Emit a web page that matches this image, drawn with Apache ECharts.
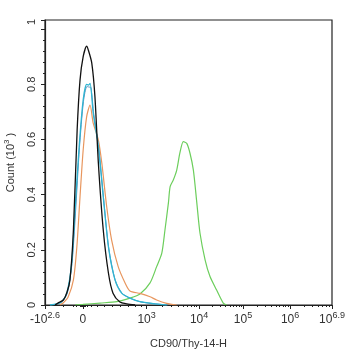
<!DOCTYPE html>
<html>
<head>
<meta charset="utf-8">
<script src="https://cdn.jsdelivr.net/npm/echarts@6/dist/echarts.min.js"></script>
<style>html,body{margin:0;padding:0;background:#fff}#c{width:346px;height:350px}</style>
</head>
<body>
<div id="c"></div>
<script>
// x values are display positions on the biexponential axis (0 = -10^2.6 ... 1000 = 10^6.9)
// y values are counts in units of 10^3
const xTickPos = [0, 132, 354, 537, 690, 854, 1000];
const xTickText = ['-10^2.6', '0', '10^3', '10^4', '10^5', '10^6', '10^6.9'];
const xMinorLow = [64, 99, 110, 122, 125, 129, 136, 139, 146, 160, 181, 206, 233, 261, 289, 314, 335];
const yLabelPos = [0, 0.2, 0.4, 0.6, 0.8, 1.026];
const yLabelText = ['0', '0.2', '0.4', '0.6', '0.8', '1'];

const blackX = [35, 45, 64, 77, 87, 99, 112, 122, 133, 145, 151, 163, 174, 186, 203, 221, 237, 261, 285, 314];
const blackY = [0, 0.007, 0.018, 0.047, 0.091, 0.272, 0.634, 0.815, 0.900, 0.938, 0.924, 0.877, 0.755, 0.514, 0.272, 0.116, 0.043, 0.011, 0.004, 0];

const cyanX = [17, 41, 58, 76, 93, 104, 119, 133, 145, 151, 157, 168, 186, 203, 221, 244, 267, 296, 331, 376, 424];
const cyanY = [0, 0.004, 0.012, 0.043, 0.152, 0.333, 0.574, 0.743, 0.800, 0.797, 0.803, 0.696, 0.574, 0.392, 0.211, 0.091, 0.043, 0.025, 0.012, 0.005, 0];

const steelX = [20, 42, 60, 78, 94, 106, 120, 134, 146, 153, 160, 170, 187, 204, 222, 245, 269, 298, 335, 385, 428];
const steelY = [0, 0.004, 0.012, 0.044, 0.150, 0.330, 0.570, 0.738, 0.792, 0.790, 0.788, 0.690, 0.570, 0.388, 0.207, 0.088, 0.042, 0.024, 0.011, 0.004, 0];

const orangeX = [52, 64, 81, 99, 111, 122, 133, 145, 157, 168, 186, 198, 215, 232, 255, 279, 296, 331, 366, 389, 424, 459];
const orangeY = [0, 0.008, 0.030, 0.091, 0.211, 0.392, 0.562, 0.682, 0.725, 0.659, 0.598, 0.514, 0.356, 0.236, 0.139, 0.080, 0.051, 0.042, 0.030, 0.018, 0.006, 0];

const greenX = [105, 132, 192, 250, 296, 331, 366, 389, 407, 418, 430, 436, 447, 459, 470, 482, 494, 505, 517, 529, 540, 558, 575, 598, 621, 633];
const greenY = [0, 0.002, 0.007, 0.012, 0.025, 0.040, 0.080, 0.139, 0.188, 0.272, 0.370, 0.429, 0.453, 0.489, 0.551, 0.592, 0.586, 0.551, 0.489, 0.370, 0.261, 0.163, 0.103, 0.054, 0.007, 0];

function pairs(xs, ys) { return xs.map((x, i) => [x, ys[i]]); }

// log-spaced minor ticks between decade major ticks
const xMinor = xMinorLow.slice();
const decades = [[354, 537, 1], [537, 690, 1], [690, 854, 1], [854, 1000, 0.9]];
decades.forEach(([a, b, span]) => {
  const w = (b - a) / span;
  for (let m = 2; m <= 9; m++) {
    const p = a + w * Math.log10(m);
    if (p < b - 0.5) xMinor.push(p);
  }
});

function richLabel(t) {
  const i = t.indexOf('^');
  if (i < 0) return '{b|' + t + '}';
  return '{b|' + t.slice(0, i) + '}{s|' + t.slice(i + 1) + '}';
}

const font = 'Liberation Sans, Arial, sans-serif';
const chart = echarts.init(document.getElementById('c'), null, { renderer: 'canvas' });
const common = { type: 'line', showSymbol: false, symbol: 'none', smooth: 0.25, animation: false, z: 3 };

chart.setOption({
  animation: false,
  grid: { left: 45, right: 14, top: 20, bottom: 45, outerBoundsMode: 'none', containLabel: false, show: true, borderColor: '#222', borderWidth: 1.2, backgroundColor: 'transparent' },
  xAxis: [{
    type: 'value', min: 0, max: 1000,
    name: 'CD90/Thy-14-H', nameLocation: 'middle', nameGap: 33,
    nameTextStyle: { fontFamily: font, fontSize: 11, color: '#333' },
    axisLine: { show: true, lineStyle: { color: '#222', width: 1.2 } },
    axisTick: { show: true, length: 4, customValues: xTickPos, lineStyle: { color: '#222' } },
    axisLabel: {
      customValues: xTickPos, margin: 6, color: '#333', fontFamily: font,
      formatter: v => { const k = xTickPos.findIndex(p => Math.abs(p - v) < 0.01); return k < 0 ? '' : richLabel(xTickText[k]); },
      rich: {
        b: { fontSize: 12, fontFamily: font, color: '#333', lineHeight: 17 },
        s: { fontSize: 9, fontFamily: font, color: '#333', verticalAlign: 'top', lineHeight: 9 }
      }
    },
    splitLine: { show: false }
  }, {
    type: 'value', min: 0, max: 1000, position: 'bottom',
    axisLine: { show: false },
    axisTick: { show: true, length: 2, customValues: xMinor, lineStyle: { color: '#222' } },
    axisLabel: { show: false },
    splitLine: { show: false }
  }],
  yAxis: {
    type: 'value', min: 0, max: 1.033, interval: 0.2,
    name: '{b|Count (10}{s|3}{b| )}', nameLocation: 'middle', nameGap: 27, nameRotate: 90,
    nameTextStyle: {
      rich: {
        b: { fontSize: 11, fontFamily: font, color: '#333', lineHeight: 15 },
        s: { fontSize: 8, fontFamily: font, color: '#333', verticalAlign: 'top', lineHeight: 8 }
      }
    },
    axisLine: { show: true, lineStyle: { color: '#222', width: 1.2 } },
    axisTick: { show: true, length: 4, lineStyle: { color: '#222' } },
    minorTick: { show: true, splitNumber: 5, length: 2, lineStyle: { color: '#222' } },
    axisLabel: {
      customValues: yLabelPos,
      rotate: 90, margin: 8, fontSize: 11, fontFamily: font, color: '#333',
      formatter: v => { const k = yLabelPos.findIndex(t => Math.abs(t - v) < 1e-6); return k < 0 ? '' : yLabelText[k]; }
    },
    splitLine: { show: false },
    minorSplitLine: { show: false }
  },
  series: [
    Object.assign({}, common, { name: 'green', data: pairs(greenX, greenY), lineStyle: { width: 1.2, color: '#6cce5c' }, itemStyle: { color: '#6cce5c' } }),
    Object.assign({}, common, { name: 'orange', data: pairs(orangeX, orangeY), lineStyle: { width: 1.2, color: '#e8965e' }, itemStyle: { color: '#e8965e' } }),
    Object.assign({}, common, { name: 'steel', data: pairs(steelX, steelY), lineStyle: { width: 1, color: '#5f8fb8' }, itemStyle: { color: '#5f8fb8' } }),
    Object.assign({}, common, { name: 'cyan', data: pairs(cyanX, cyanY), lineStyle: { width: 1.3, color: '#2fb4d2' }, itemStyle: { color: '#2fb4d2' } }),
    Object.assign({}, common, { name: 'black', data: pairs(blackX, blackY), lineStyle: { width: 1.3, color: '#111' }, itemStyle: { color: '#111' } })
  ]
});
</script>
</body>
</html>
